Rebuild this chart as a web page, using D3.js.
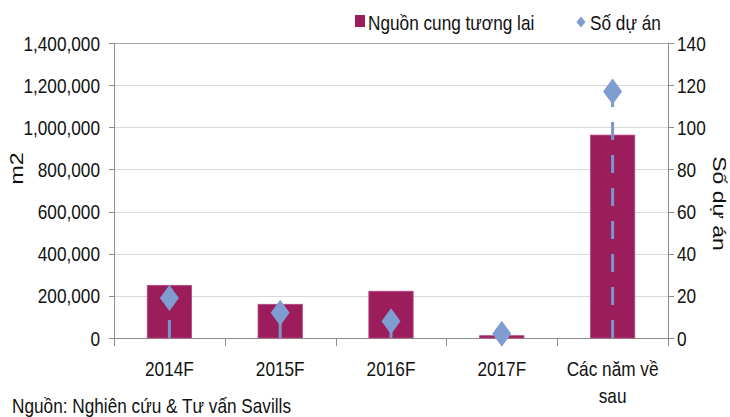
<!DOCTYPE html>
<html>
<head>
<meta charset="utf-8">
<script src="https://cdn.jsdelivr.net/npm/d3@7"></script>
<style>
  body { margin: 0; background: #fff; }
  text { font-family: "Liberation Sans", Arial, sans-serif; fill: #111; }
</style>
</head>
<body>
<svg id="chart" width="730" height="417"></svg>
<script>
// chart data
var categories = ["2014F", "2015F", "2016F", "2017F", "Các năm về sau"];
var xLabels = [["2014F"], ["2015F"], ["2016F"], ["2017F"], ["Các năm về", "sau"]];
var supply = [250000, 160000, 222000, 11000, 963000];   // Nguồn cung tương lai (m2)
var projects = [19, 12, 8, 2, 117];                     // Số dự án
var leftTicks = [0, 200000, 400000, 600000, 800000, 1000000, 1200000, 1400000];
var rightTicks = [0, 20, 40, 60, 80, 100, 120, 140];

var barColor = "#9c1d5b",
    dotColor = "#7f9dd1",
    lineColor = "#7a97cc";

var sx = 0.82; // text in the picture is narrowed

var svg = d3.select("#chart");

// plot box (don't use "top", it's window.top)
var pL = 114, pR = 668, pT = 43, pB = 338;

var x = d3.scaleBand()
    .domain(categories)
    .range([pL, pR])
    .paddingInner(0.6)
    .paddingOuter(0.3);

var y = d3.scaleLinear().domain([0, 1400000]).range([pB, pT]);
var y2 = d3.scaleLinear().domain([0, 140]).range([pB, pT]);

function diamond(w, h) {
  return "M0," + (-h / 2) + "L" + (w / 2) + ",0L0," + (h / 2) + "L" + (-w / 2) + ",0Z";
}

function label(g, px, py, s, anchor, size, rot) {
  var t = "translate(" + px + "," + py + ") scale(" + sx + ",1)";
  if (rot) t += " rotate(" + rot + ")";
  return g.append("text")
      .attr("transform", t)
      .attr("text-anchor", anchor)
      .style("font-size", size + "px")
      .text(s);
}

// gridlines
svg.append("g").selectAll("line")
    .data(leftTicks.slice(1))
  .enter().append("line")
    .attr("x1", pL).attr("x2", pR)
    .attr("y1", function(d) { return Math.round(y(d)) + 0.5; })
    .attr("y2", function(d) { return Math.round(y(d)) + 0.5; })
    .attr("stroke", function(d) { return d == 1400000 ? "#a6a6a6" : "#d9d9d9"; })
    .attr("stroke-width", 1);

// left axis
var axL = svg.append("g");
axL.append("line")
    .attr("x1", pL + 0.5).attr("x2", pL + 0.5)
    .attr("y1", pT).attr("y2", pB + 8)
    .attr("stroke", "#8c8c8c");
axL.selectAll(".tk").data(leftTicks).enter().append("line")
    .attr("x1", pL - 5).attr("x2", pL)
    .attr("y1", function(d) { return Math.round(y(d)) + 0.5; })
    .attr("y2", function(d) { return Math.round(y(d)) + 0.5; })
    .attr("stroke", "#8c8c8c");
leftTicks.forEach(function(d) {
  label(axL, 100, y(d) + 7.5, d3.format(",")(d), "end", 21);
});

// right axis
var axR = svg.append("g");
axR.append("line")
    .attr("x1", pR + 0.5).attr("x2", pR + 0.5)
    .attr("y1", pT).attr("y2", pB + 8)
    .attr("stroke", "#8c8c8c");
axR.selectAll(".tk").data(rightTicks).enter().append("line")
    .attr("x1", pR).attr("x2", pR + 6)
    .attr("y1", function(d) { return Math.round(y2(d)) + 0.5; })
    .attr("y2", function(d) { return Math.round(y2(d)) + 0.5; })
    .attr("stroke", "#8c8c8c");
rightTicks.forEach(function(d) {
  label(axR, 677, y2(d) + 7.5, d, "start", 21);
});

// bottom axis
var axB = svg.append("g");
axB.append("line")
    .attr("x1", pL).attr("x2", pR + 1)
    .attr("y1", pB + 0.5).attr("y2", pB + 0.5)
    .attr("stroke", "#8c8c8c");
axB.selectAll(".tk").data(categories.slice(1)).enter().append("line")
    .attr("x1", function(d) { return Math.round(x(d) - x.step() * x.paddingInner() / 2) + 0.5; })
    .attr("x2", function(d) { return Math.round(x(d) - x.step() * x.paddingInner() / 2) + 0.5; })
    .attr("y1", pB).attr("y2", pB + 8)
    .attr("stroke", "#8c8c8c");
categories.forEach(function(c, i) {
  xLabels[i].forEach(function(s, j) {
    label(axB, x(c) + x.bandwidth() / 2, 376 + j * 27, s, "middle", 21);
  });
});

// bars
svg.append("g").selectAll("rect")
    .data(supply)
  .enter().append("rect")
    .attr("x", function(d, i) { return x(categories[i]); })
    .attr("y", function(d) { return y(d); })
    .attr("width", x.bandwidth())
    .attr("height", function(d) { return pB - y(d); })
    .attr("fill", barColor)
    .attr("stroke", "#b44a80")
    .attr("stroke-width", 0.8);

// drop lines + diamonds
var pts = svg.append("g");
pts.selectAll("line")
    .data(projects)
  .enter().append("line")
    .attr("x1", function(d, i) { return x(categories[i]) + x.bandwidth() / 2; })
    .attr("x2", function(d, i) { return x(categories[i]) + x.bandwidth() / 2; })
    .attr("y1", pB)
    .attr("y2", function(d) { return y2(d); })
    .attr("stroke", lineColor)
    .attr("stroke-width", 3)
    .attr("stroke-dasharray", "18,15");
pts.selectAll("path")
    .data(projects)
  .enter().append("path")
    .attr("transform", function(d, i) {
      return "translate(" + (x(categories[i]) + x.bandwidth() / 2) + "," + y2(d) + ")"; })
    .attr("d", diamond(19, 26))
    .attr("fill", dotColor);

// axis titles
label(svg, 22.5, 168.5, "m2", "middle", 23, -90);
label(svg, 712.5, 203.5, "Số dự án", "middle", 23, 90);

// legend
var lg = svg.append("g");
lg.append("rect").attr("x", 355).attr("y", 15).attr("width", 10).attr("height", 12).attr("fill", barColor);
label(lg, 368, 30, "Nguồn cung tương lai", "start", 21);
lg.append("path").attr("transform", "translate(581,22)").attr("d", diamond(9, 11)).attr("fill", dotColor);
label(lg, 590, 30, "Số dự án", "start", 21);

// source
label(svg, 12, 413, "Nguồn: Nghiên cứu & Tư vấn Savills", "start", 21);
</script>
</body>
</html>
